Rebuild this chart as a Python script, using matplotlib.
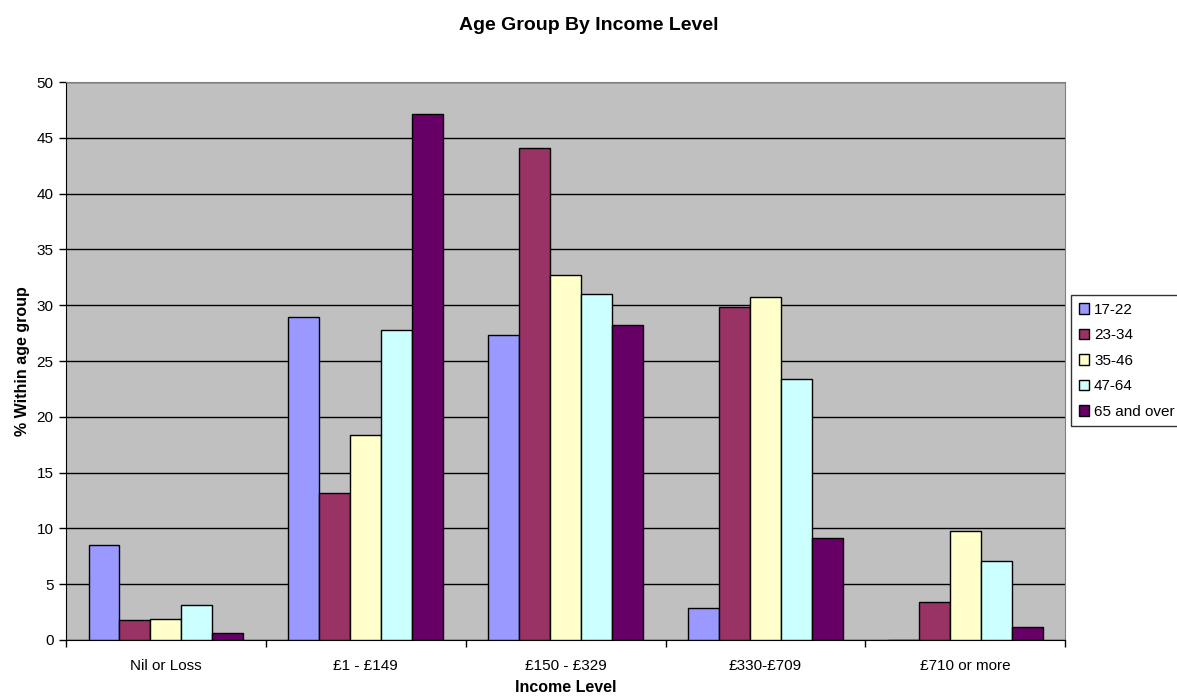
import numpy as np
from matplotlib import pyplot as plt

plt.rcParams['font.family'] = ['Liberation Sans', 'DejaVu Sans']

incomeLevels = ["Nil or Loss", "£1 - £149", "£150 - £329", "£330-£709", "£710 or more"]
ageGroups = ["17-22", "23-34", "35-46", "47-64", "65 and over"]

age17 = [8.5, 28.9, 27.3, 2.9, 0.0]
age23 = [1.8, 13.2, 44.1, 29.8, 3.4]
age35 = [1.9, 18.4, 32.7, 30.7, 9.8]
age47 = [3.1, 27.8, 31.0, 23.4, 7.1]
age65 = [0.6, 47.1, 28.2, 9.1, 1.2]

seriesList = [age17, age23, age35, age47, age65]
barColours = ["#9999FF", "#993366", "#FFFFCC", "#CCFFFF", "#660066"]

fig = plt.figure(figsize=(11.77, 6.98), dpi=100)
ax = fig.add_axes([0.0561, 0.0831, 0.849, 0.7994])
ax.set_facecolor("#C0C0C0")

x = np.arange(len(incomeLevels))
w = 0.155
for i in range(len(seriesList)):
    ax.bar(x + (i - 2) * w, seriesList[i], width=w, color=barColours[i],
           edgecolor="black", linewidth=1, label=ageGroups[i], zorder=3)

ax.set_xlim(-0.5, len(incomeLevels) - 0.5)
ax.set_ylim(0, 50)
ax.set_yticks(range(0, 51, 5))
ax.yaxis.grid(True, color="black", linewidth=1, zorder=1)
ax.set_axisbelow(True)

ax.set_xticks(x)
ax.set_xticklabels(incomeLevels, fontsize=11)
ax.set_xticks(np.arange(-0.5, len(incomeLevels), 1), minor=True)
ax.tick_params(axis="x", which="major", length=0, pad=14)
ax.tick_params(axis="x", which="minor", length=5, width=1, color="black")
ax.tick_params(axis="y", length=5, width=1, labelsize=11, pad=4)

for s in ["top", "right"]:
    ax.spines[s].set_color("#808080")
ax.spines["left"].set_color("black")
ax.spines["bottom"].set_color("black")

ax.set_xlabel("Income Level", fontsize=11.5, fontweight="bold", labelpad=5)
ax.set_ylabel("% Within age group", fontsize=11.5, fontweight="bold", labelpad=5)
fig.suptitle("Age Group By Income Level", fontsize=14, fontweight="bold", y=0.975)

leg = ax.legend(loc="upper left", bbox_to_anchor=(0.91, 0.577), bbox_transform=fig.transFigure,
                fontsize=11, frameon=True, fancybox=False, edgecolor="black",
                handlelength=0.7, handleheight=0.7, handletextpad=0.3,
                labelspacing=0.75, borderpad=0.5, borderaxespad=0)
leg.get_frame().set_linewidth(1)

plt.savefig("out.png", dpi=100)
